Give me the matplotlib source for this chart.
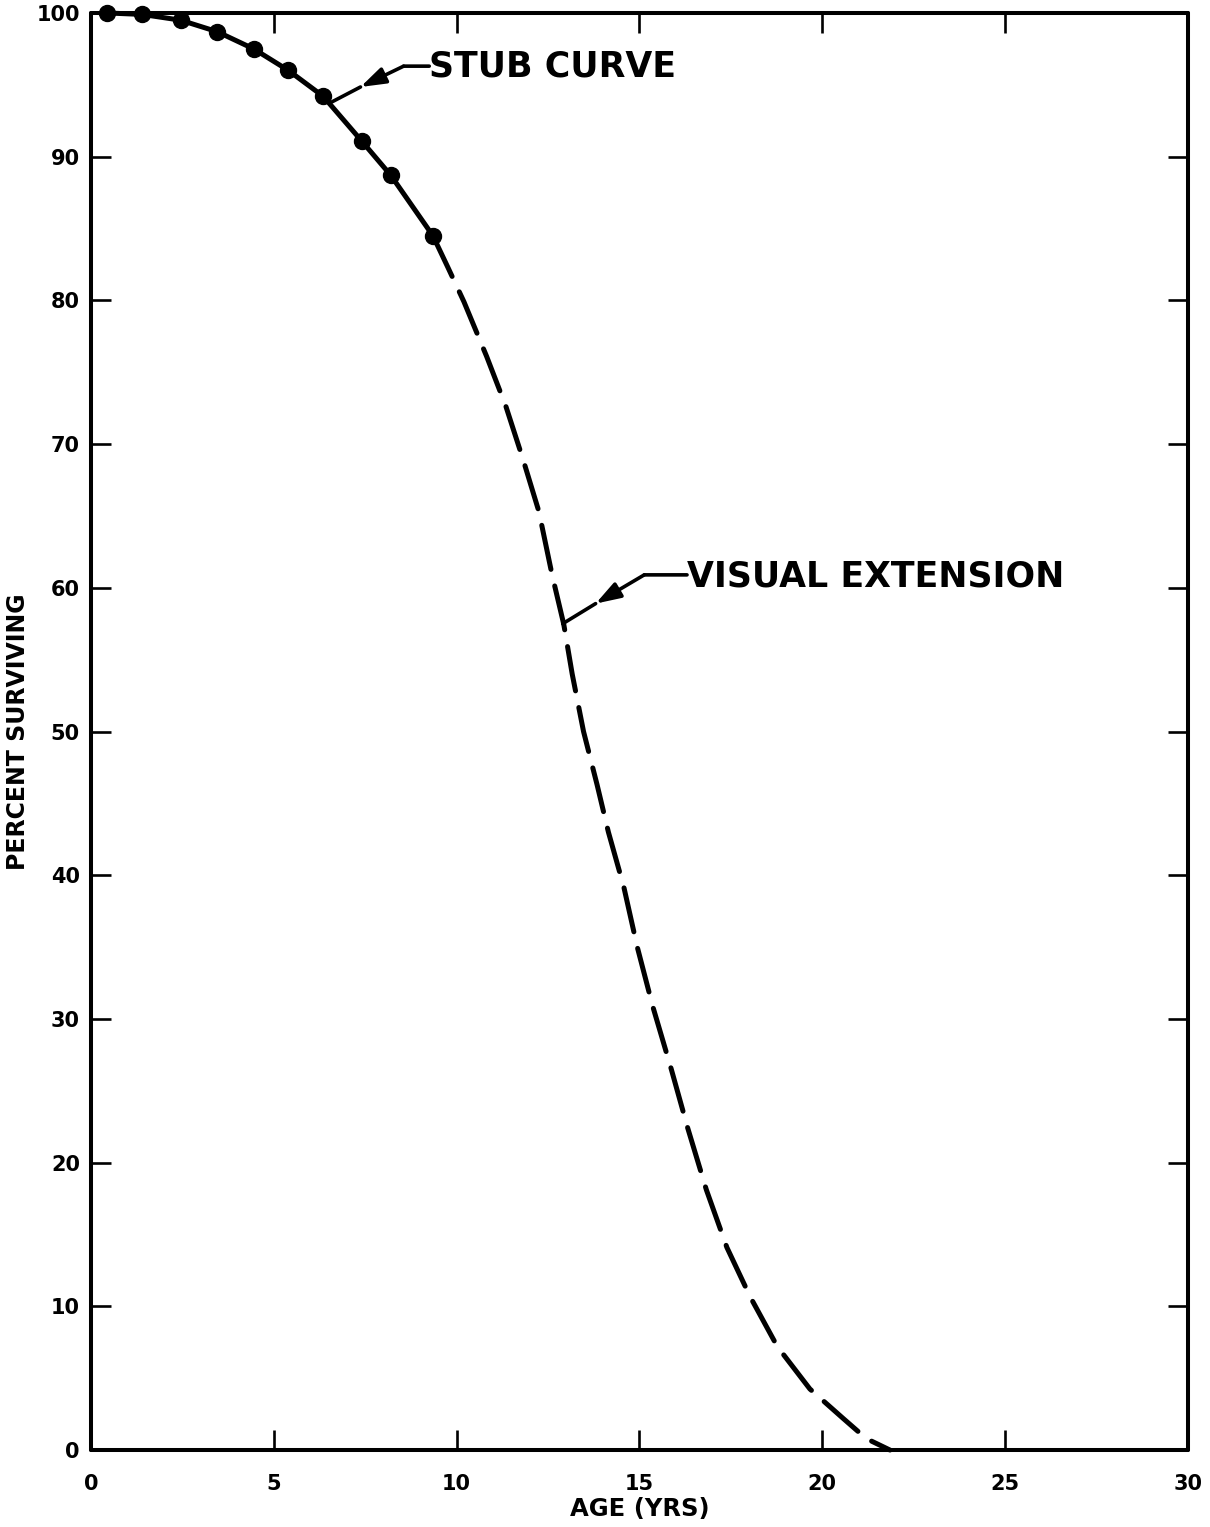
import matplotlib
matplotlib.use("Agg")
import matplotlib.pyplot as plt

# ---- data ----
stub_age = [0.45, 1.4, 2.45, 3.45, 4.45, 5.4, 6.35, 7.4, 8.2, 9.35]
stub_pct = [100.0, 99.9, 99.5, 98.7, 97.5, 96.0, 94.2, 91.1, 88.7, 84.5]

ext_age = [9.35, 9.76, 10.2, 10.82, 11.35, 11.82, 12.25, 12.61, 12.93, 13.16,
           13.47, 13.84, 14.15, 14.57, 14.94, 15.36, 15.87, 16.32, 16.83, 17.39,
           18.02, 18.77, 19.66, 20.57, 21.2, 21.85]
ext_pct = [84.5, 82.3, 79.9, 76.1, 72.6, 68.9, 65.3, 60.9, 57.45, 54.0,
           50.0, 46.3, 43.0, 39.2, 35.0, 30.9, 26.5, 22.4, 18.1, 14.1,
           10.7, 7.2, 4.25, 2.2, 0.8, 0.0]

x_ticks = [0, 5, 10, 15, 20, 25, 30]
y_ticks = [0, 10, 20, 30, 40, 50, 60, 70, 80, 90, 100]

stub_label = "STUB CURVE"
ext_label = "VISUAL EXTENSION"
x_label = "AGE (YRS)"
y_label = "PERCENT SURVIVING"

# ---- figure ----
fig = plt.figure(figsize=(12.10, 15.27), dpi=100)
ax = fig.add_axes([0.0752, 0.0504, 0.9066, 0.9411])
ax.set_xlim(0, 30)
ax.set_ylim(0, 100)

lw = 3.6
ax.plot(stub_age, stub_pct, color="black", lw=lw, solid_capstyle="round",
        solid_joinstyle="round", clip_on=False, zorder=3)
ax.plot(stub_age, stub_pct, "o", color="black", markersize=11.5, clip_on=False, zorder=4)
ax.plot(ext_age, ext_pct, color="black", lw=lw, dashes=(9, 3.4),
        dash_capstyle="round", dash_joinstyle="round", clip_on=False, zorder=3)

# spines & ticks
for s in ax.spines.values():
    s.set_linewidth(2.9)
    s.set_capstyle("round")
ax.set_xticks(x_ticks)
ax.set_yticks(y_ticks)
ax.set_xticklabels([str(v) for v in x_ticks], fontsize=15, fontweight="bold")
ax.set_yticklabels([str(v) for v in y_ticks], fontsize=15, fontweight="bold")
ax.tick_params(axis="both", which="major", direction="in", length=14.5, width=1.9,
               top=True, right=True, labeltop=False, labelright=False)
ax.tick_params(axis="x", pad=17)
ax.tick_params(axis="y", pad=8)

ax.set_xlabel(x_label, fontsize=17.5, fontweight="bold")
ax.xaxis.set_label_coords(0.5, -0.033)
ax.set_ylabel(y_label, fontsize=17, fontweight="bold")
ax.yaxis.set_label_coords(-0.056, 0.5)

# ---- annotations ----
ann_lw = 2.6
def leader(text, tip, head, elbow, text_pos):
    ax.annotate("", xy=tip, xytext=head,
                arrowprops=dict(arrowstyle="-", lw=ann_lw, color="black",
                                shrinkA=0, shrinkB=0))
    ax.annotate("", xy=head, xytext=elbow,
                arrowprops=dict(arrowstyle="-|>,head_length=0.75,head_width=0.25",
                                mutation_scale=20, lw=ann_lw, color="black",
                                shrinkA=0, shrinkB=0))
    ax.annotate("", xy=elbow, xytext=(text_pos[0], elbow[1]),
                arrowprops=dict(arrowstyle="-", lw=ann_lw, color="black",
                                shrinkA=0, shrinkB=0))
    ax.text(text_pos[0], text_pos[1], text, fontsize=25, fontweight="bold",
            ha="left", va="center", family="DejaVu Sans")

leader(stub_label, tip=(6.58, 93.8), head=(7.37, 94.85), elbow=(8.55, 96.3),
       text_pos=(9.25, 96.3))
leader(ext_label, tip=(12.9, 57.5), head=(13.8, 58.9), elbow=(15.13, 60.9),
       text_pos=(16.3, 60.8))

fig.savefig("out.png", dpi=100)
